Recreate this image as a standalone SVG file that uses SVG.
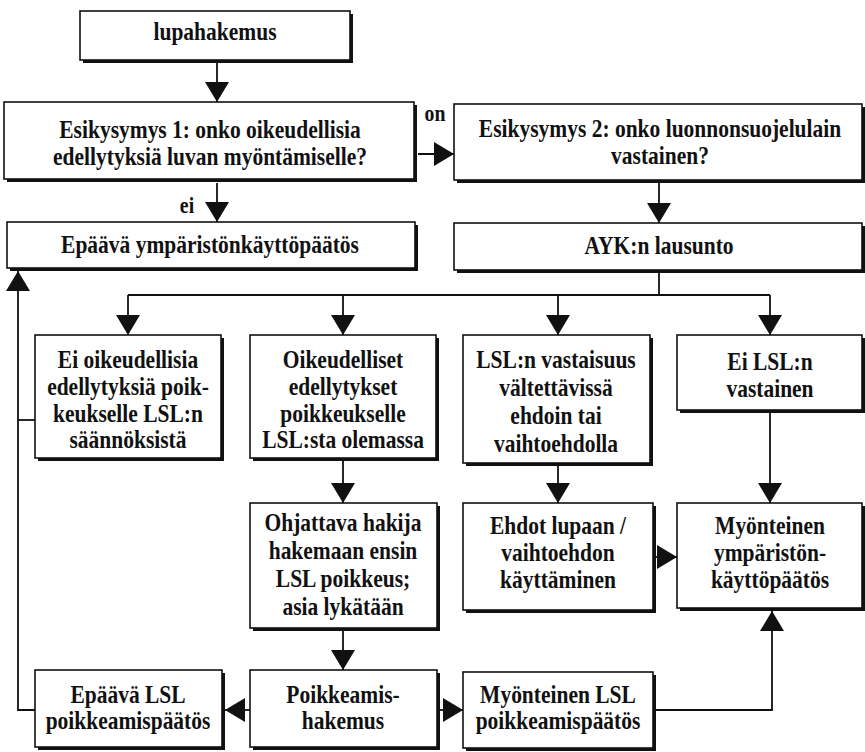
<svg xmlns="http://www.w3.org/2000/svg" width="865" height="752" viewBox="0 0 865 752">
<style>
.sh{fill:#111}
.bx{fill:#fff;stroke:#111;stroke-width:1.6}
text{font-family:"Liberation Serif","Times New Roman",serif;font-weight:bold;font-size:25px;fill:#111;text-anchor:middle}
.lbl{font-size:23px}
.c{fill:none;stroke:#111;stroke-width:1.8}
</style>
<defs>
<marker id="ah" markerUnits="userSpaceOnUse" markerWidth="20" markerHeight="24" refX="20" refY="12" orient="auto">
<path d="M0,0 L20,12 L0,24 z" fill="#111"/>
</marker>
</defs>
<rect width="865" height="752" fill="#fff"/>
<g id="connectors">
<path class="c" d="M217,63 V102" marker-end="url(#ah)"/>
<path class="c" d="M418,154 H454" marker-end="url(#ah)"/>
<path class="c" d="M217,183 V222" marker-end="url(#ah)"/>
<path class="c" d="M659,183 V223" marker-end="url(#ah)"/>
<path class="c" d="M659,273 V295"/>
<path class="c" d="M128,295 H770"/>
<path class="c" d="M128,295 V335" marker-end="url(#ah)"/>
<path class="c" d="M343,295 V335" marker-end="url(#ah)"/>
<path class="c" d="M558,295 V335" marker-end="url(#ah)"/>
<path class="c" d="M770,295 V335" marker-end="url(#ah)"/>
<path class="c" d="M35,420 H18"/>
<path class="c" d="M35,710 H18 V271" marker-end="url(#ah)"/>
<path class="c" d="M343,461 V503" marker-end="url(#ah)"/>
<path class="c" d="M558,466 V503" marker-end="url(#ah)"/>
<path class="c" d="M770,413 V503" marker-end="url(#ah)"/>
<path class="c" d="M656,557 H677" marker-end="url(#ah)"/>
<path class="c" d="M343,631 V670" marker-end="url(#ah)"/>
<path class="c" d="M250,710 H225" marker-end="url(#ah)"/>
<path class="c" d="M440,710 H463" marker-end="url(#ah)"/>
<path class="c" d="M656,710 H772 V611" marker-end="url(#ah)"/>
</g>
<g id="lupahakemus">
<rect class="sh" x="83" y="14" width="270" height="49"/>
<rect class="bx" x="80" y="11" width="270" height="49"/>
<text transform="translate(215,40) scale(0.86,1)">lupahakemus</text>
</g>
<g id="esikysymys1">
<rect class="sh" x="7" y="105" width="410" height="77"/>
<rect class="bx" x="4" y="102" width="410" height="77"/>
<text transform="translate(210,138) scale(0.86,1)">Esikysymys 1: onko oikeudellisia</text>
<text transform="translate(210,165) scale(0.86,1)">edellytyksiä luvan myöntämiselle?</text>
</g>
<g id="label-on"><text class="lbl" transform="translate(435,121) scale(0.86,1)">on</text></g>
<g id="label-ei"><text class="lbl" transform="translate(187,213) scale(0.86,1)">ei</text></g>
<g id="esikysymys2">
<rect class="sh" x="457" y="107" width="408" height="76"/>
<rect class="bx" x="454" y="104" width="408" height="76"/>
<text transform="translate(660,137) scale(0.86,1)">Esikysymys 2: onko luonnonsuojelulain</text>
<text transform="translate(660,164) scale(0.86,1)">vastainen?</text>
</g>
<g id="epaava-ymp">
<rect class="sh" x="10" y="225" width="408" height="46"/>
<rect class="bx" x="7" y="222" width="408" height="46"/>
<text transform="translate(210,253) scale(0.86,1)">Epäävä ympäristönkäyttöpäätös</text>
</g>
<g id="ayk">
<rect class="sh" x="457" y="226" width="408" height="47"/>
<rect class="bx" x="454" y="223" width="408" height="47"/>
<text transform="translate(659,254) scale(0.86,1)">AYK:n lausunto</text>
</g>
<g id="ei-oikeudellisia">
<rect class="sh" x="38" y="338" width="186" height="123"/>
<rect class="bx" x="35" y="335" width="186" height="123"/>
<text transform="translate(128,368) scale(0.86,1)">Ei oikeudellisia</text>
<text transform="translate(128,395) scale(0.86,1)">edellytyksiä poik-</text>
<text transform="translate(128,422) scale(0.86,1)">keukselle LSL:n</text>
<text transform="translate(128,448) scale(0.86,1)">säännöksistä</text>
</g>
<g id="oikeudelliset">
<rect class="sh" x="253" y="338" width="186" height="123"/>
<rect class="bx" x="250" y="335" width="186" height="123"/>
<text transform="translate(343,368) scale(0.86,1)">Oikeudelliset</text>
<text transform="translate(343,395) scale(0.86,1)">edellytykset</text>
<text transform="translate(343,422) scale(0.86,1)">poikkeukselle</text>
<text transform="translate(343,448) scale(0.86,1)">LSL:sta olemassa</text>
</g>
<g id="lsl-vastaisuus">
<rect class="sh" x="466" y="338" width="187" height="128"/>
<rect class="bx" x="463" y="335" width="187" height="128"/>
<text transform="translate(556,368) scale(0.86,1)">LSL:n vastaisuus</text>
<text transform="translate(556,396) scale(0.86,1)">vältettävissä</text>
<text transform="translate(556,424) scale(0.86,1)">ehdoin tai</text>
<text transform="translate(556,452) scale(0.86,1)">vaihtoehdolla</text>
</g>
<g id="ei-lsl">
<rect class="sh" x="680" y="338" width="185" height="75"/>
<rect class="bx" x="677" y="335" width="185" height="75"/>
<text transform="translate(770,370) scale(0.86,1)">Ei LSL:n</text>
<text transform="translate(770,397) scale(0.86,1)">vastainen</text>
</g>
<g id="ohjattava">
<rect class="sh" x="253" y="506" width="187" height="125"/>
<rect class="bx" x="250" y="503" width="187" height="125"/>
<text transform="translate(343,531) scale(0.86,1)">Ohjattava hakija</text>
<text transform="translate(343,559) scale(0.86,1)">hakemaan ensin</text>
<text transform="translate(343,587) scale(0.86,1)">LSL poikkeus;</text>
<text transform="translate(343,615) scale(0.86,1)">asia lykätään</text>
</g>
<g id="ehdot">
<rect class="sh" x="466" y="506" width="190" height="107"/>
<rect class="bx" x="463" y="503" width="190" height="107"/>
<text transform="translate(558,534) scale(0.86,1)">Ehdot lupaan /</text>
<text transform="translate(558,561) scale(0.86,1)">vaihtoehdon</text>
<text transform="translate(558,588) scale(0.86,1)">käyttäminen</text>
</g>
<g id="myonteinen-ymp">
<rect class="sh" x="680" y="506" width="185" height="105"/>
<rect class="bx" x="677" y="503" width="185" height="105"/>
<text transform="translate(770,534) scale(0.86,1)">Myönteinen</text>
<text transform="translate(770,561) scale(0.86,1)">ympäristön-</text>
<text transform="translate(770,588) scale(0.86,1)">käyttöpäätös</text>
</g>
<g id="epaava-lsl">
<rect class="sh" x="38" y="673" width="187" height="77"/>
<rect class="bx" x="35" y="670" width="187" height="77"/>
<text transform="translate(128,703) scale(0.86,1)">Epäävä LSL</text>
<text transform="translate(128,729) scale(0.86,1)">poikkeamispäätös</text>
</g>
<g id="poikkeamishakemus">
<rect class="sh" x="253" y="673" width="187" height="77"/>
<rect class="bx" x="250" y="670" width="187" height="77"/>
<text transform="translate(343,703) scale(0.86,1)">Poikkeamis-</text>
<text transform="translate(343,729) scale(0.86,1)">hakemus</text>
</g>
<g id="myonteinen-lsl">
<rect class="sh" x="466" y="675" width="190" height="76"/>
<rect class="bx" x="463" y="672" width="190" height="76"/>
<text transform="translate(558,703) scale(0.86,1)">Myönteinen LSL</text>
<text transform="translate(558,729) scale(0.86,1)">poikkeamispäätös</text>
</g>
</svg>
